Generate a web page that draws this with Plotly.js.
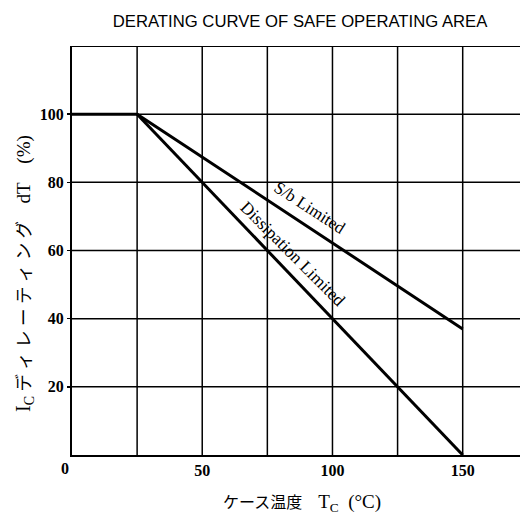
<!DOCTYPE html>
<html><head><meta charset="utf-8">
<script src="https://cdn.plot.ly/plotly-3.0.1.min.js"></script>
<style>html,body{margin:0;padding:0;background:#fff;overflow:hidden}</style>
</head><body><div id="chart" style="width:520px;height:519px"></div>
<script>
const sbX = [0, 25, 150];
const sbY = [100, 100, 37];
const dissX = [25, 150];
const dissY = [100, 0];
const xTicks = [50, 100, 150];
const yTicks = [20, 40, 60, 80, 100];
const serif = "Liberation Serif, 'Noto Sans CJK JP', serif";

const traces = [
  {x: sbX, y: sbY, mode: 'lines', line: {color: '#000', width: 3}, hoverinfo: 'skip'},
  {x: dissX, y: dissY, mode: 'lines', line: {color: '#000', width: 3}, hoverinfo: 'skip'}
];

const layout = {
  width: 520, height: 519,
  margin: {l: 72, r: 0, t: 46, b: 64},
  showlegend: false,
  paper_bgcolor: '#fff', plot_bgcolor: '#fff',
  title: {text: 'DERATING CURVE OF SAFE OPERATING AREA', x: 0.577, xanchor: 'center', y: 0.959, yanchor: 'middle',
          font: {family: 'Liberation Sans, Arial, sans-serif', size: 16.7, color: '#000'}},
  xaxis: {range: [0, 172], tickvals: xTicks, ticktext: xTicks.map(String),
          showgrid: false, zeroline: false, showline: true, linecolor: '#000', linewidth: 2,
          ticks: '', tickfont: {family: serif, size: 16, color: '#000', weight: 'bold'}, fixedrange: true},
  yaxis: {range: [0, 120], tickvals: yTicks, ticktext: yTicks.map(String),
          showgrid: false, zeroline: false, showline: true, linecolor: '#000', linewidth: 2,
          ticks: 'outside', ticklen: 3, tickcolor: '#000', tickwidth: 1.5,
          tickfont: {family: serif, size: 16, color: '#000', weight: 'bold'}, fixedrange: true},
  shapes: [],
  annotations: [
    {text: 'S/b Limited', x: 91, y: 72.5, xref: 'x', yref: 'y', showarrow: false, textangle: 33,
     font: {family: serif, size: 17, color: '#000'}},
    {text: 'Dissipation Limited', x: 85, y: 59, xref: 'x', yref: 'y', showarrow: false, textangle: 45,
     font: {family: serif, size: 17.5, color: '#000'}},
    {text: '<span style="font-size:20px">I<sub>C</sub></span> デ ィ レ ー テ ィ ン グ　<span style="font-size:19px">dT　(%)</span>',
     x: -0.105, y: 0.445, xref: 'paper', yref: 'paper', xanchor: 'center', yanchor: 'middle', showarrow: false,
     textangle: -90, font: {family: serif, size: 17.5, color: '#000'}},
    {text: 'ケース温度　<span style="font-size:19px">T<sub>C</sub>  (°C)</span>', x: 0.513, y: -0.118, xref: 'paper', yref: 'paper',
     xanchor: 'center', yanchor: 'middle', showarrow: false,
     font: {family: serif, size: 16, color: '#000'}},
    {text: '0', x: -0.016, y: -0.032, xref: 'paper', yref: 'paper', xanchor: 'center', yanchor: 'middle', showarrow: false,
     font: {family: serif, size: 16, color: '#000', weight: 'bold'}}
  ]
};
// grid lines
for (let gx = 25; gx <= 150; gx += 25) {
  layout.shapes.push({type: 'line', xref: 'x', yref: 'y', x0: gx, x1: gx, y0: 0, y1: 120, line: {color: '#000', width: 1.5}, layer: 'below'});
}
for (let gy = 20; gy <= 120; gy += 20) {
  layout.shapes.push({type: 'line', xref: 'x', yref: 'y', x0: 0, x1: 172, y0: gy, y1: gy, line: {color: '#000', width: gy === 120 ? 2 : 1.5}, layer: 'below'});
}
Plotly.newPlot('chart', traces, layout, {displayModeBar: false, staticPlot: true});
</script></body></html>
